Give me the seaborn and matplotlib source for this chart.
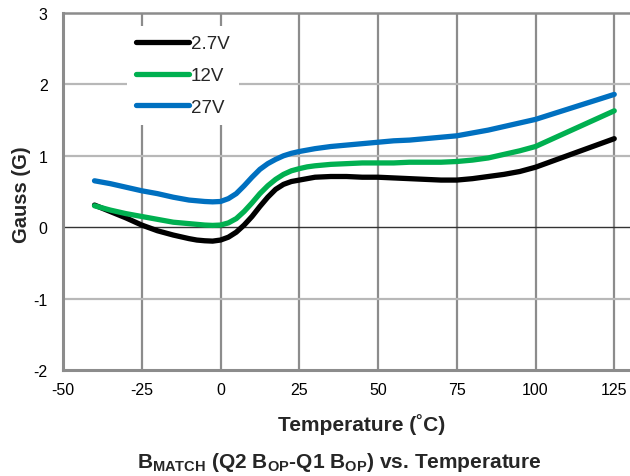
import pandas as pd
import seaborn as sns
import matplotlib.pyplot as plt

# Temperature points (°C)
temperature = [-40, -35, -30, -25, -20, -15, -10, -7.5, -5, -2.5, 0, 2.5, 5, 7.5, 10,
               12.5, 15, 17.5, 20, 22.5, 25, 27.5, 30, 35, 40, 45, 50, 55, 60, 65, 70,
               75, 80, 85, 90, 95, 100, 105, 110, 115, 120, 125]

# B_MATCH values (Gauss) for each supply voltage
gauss_2v7 = [0.31, 0.22, 0.13, 0.03, -0.05, -0.11, -0.16, -0.18, -0.19, -0.195, -0.18,
             -0.14, -0.07, 0.03, 0.15, 0.29, 0.42, 0.53, 0.60, 0.64, 0.66, 0.68, 0.70,
             0.71, 0.71, 0.70, 0.70, 0.69, 0.68, 0.67, 0.66, 0.66, 0.68, 0.71, 0.74,
             0.78, 0.84, 0.92, 1.00, 1.08, 1.16, 1.24]
gauss_12v = [0.30, 0.24, 0.19, 0.15, 0.11, 0.07, 0.05, 0.04, 0.03, 0.025, 0.03,
             0.06, 0.12, 0.22, 0.34, 0.47, 0.58, 0.67, 0.74, 0.79, 0.82, 0.845, 0.86,
             0.88, 0.89, 0.90, 0.90, 0.90, 0.91, 0.91, 0.91, 0.92, 0.94, 0.97, 1.02,
             1.07, 1.13, 1.23, 1.33, 1.43, 1.53, 1.63]
gauss_27v = [0.65, 0.61, 0.56, 0.51, 0.47, 0.42, 0.38, 0.37, 0.36, 0.355, 0.36,
             0.40, 0.47, 0.58, 0.70, 0.81, 0.89, 0.95, 1.00, 1.035, 1.06, 1.08, 1.10,
             1.13, 1.15, 1.17, 1.19, 1.21, 1.22, 1.24, 1.26, 1.28, 1.32, 1.36, 1.41,
             1.46, 1.51, 1.58, 1.65, 1.72, 1.79, 1.86]

series_labels = ["2.7V", "12V", "27V"]
series_colors = ["#000000", "#00b050", "#0070c0"]
x_ticks = [-50, -25, 0, 25, 50, 75, 100, 125]
y_ticks = [-2, -1, 0, 1, 2, 3]

# long-form table for seaborn
df = pd.concat([
    pd.DataFrame({"T": temperature, "G": vals, "V": lab})
    for vals, lab in zip([gauss_2v7, gauss_12v, gauss_27v], series_labels)
])

sns.set_style("white")
plt.rcParams["font.family"] = ["Liberation Sans", "DejaVu Sans"]
plt.rcParams["axes.unicode_minus"] = False
plt.rcParams["mathtext.fontset"] = "custom"
plt.rcParams["mathtext.rm"] = "Liberation Sans"
plt.rcParams["mathtext.bf"] = "Liberation Sans:bold"

fig = plt.figure(figsize=(6.3, 4.77), dpi=100)
ax = fig.add_axes([63 / 630, 106 / 477, 567 / 630, 357 / 477])

# grid
for xt in x_ticks[1:]:
    ax.axvline(xt, color="#8c8c8c", lw=1.6, zorder=0)
for yt in [-1, 1, 2]:
    ax.axhline(yt, color="#b8b8b8", lw=1.6, zorder=0)
ax.axhline(0, color="#333333", lw=1.0, zorder=1)

sns.lineplot(data=df, x="T", y="G", hue="V", palette=dict(zip(series_labels, series_colors)),
             lw=3.8, solid_capstyle="round", solid_joinstyle="round", ax=ax, zorder=3)

ax.set_xlim(-50, 130)
ax.set_ylim(-2, 3)
ax.set_xticks(x_ticks)
ax.set_yticks(y_ticks)
ax.tick_params(axis="both", length=0, labelsize=11.5, colors="#000000")
ax.tick_params(axis="y", pad=11)
ax.tick_params(axis="x", pad=9)

for side in ["left", "bottom"]:
    ax.spines[side].set_color("#8c8c8c")
    ax.spines[side].set_linewidth(2.2)
ax.spines["top"].set_color("#8c8c8c")
ax.spines["top"].set_linewidth(1.8)
ax.spines["right"].set_visible(False)

ax.set_xlabel("Temperature (˚C)", fontsize=15, fontweight="bold")
ax.xaxis.set_label_coords((362 - 63) / 567, (371 - 425) / 357)
ax.xaxis.label.set_va("center")
ax.set_ylabel("Gauss (G)", fontsize=14.5, fontweight="bold")
ax.yaxis.set_label_coords((22 - 63) / 567, (371 - 195) / 357)
ax.yaxis.label.set_va("center")

handles, labels = ax.get_legend_handles_labels()
leg = ax.legend(handles, labels, loc="upper left", bbox_to_anchor=(0.113, 0.964),
                borderaxespad=0, borderpad=0.5, handlelength=2.8, handletextpad=0.1,
                labelspacing=0.78, fontsize=13.5, frameon=True, facecolor="white",
                edgecolor="none", framealpha=1)
for line in leg.get_lines():
    line.set_linewidth(3.8)
    line.set_solid_capstyle("round")

fig.text(339 / 630, 1 - 463 / 477,
         r"$\mathbf{B_{MATCH}}$ (Q2 $\mathbf{B_{OP}}$-Q1 $\mathbf{B_{OP}}$) vs. Temperature",
         ha="center", va="center", fontsize=15, fontweight="bold")

plt.savefig("out.png", dpi=100)
